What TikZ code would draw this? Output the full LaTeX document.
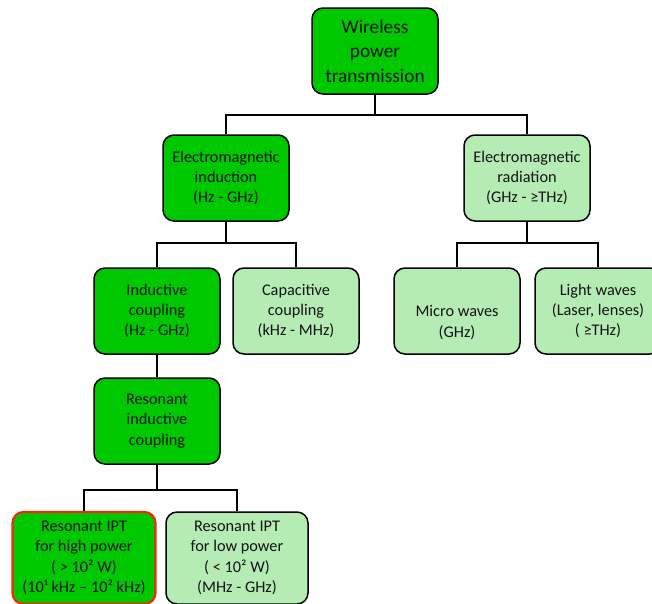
\documentclass[tikz,border=0pt]{standalone}
\usepackage{fontspec}
\setmainfont{Carlito}
\usetikzlibrary{positioning}

\definecolor{wptdark}{RGB}{0,200,0}
\definecolor{wptlight}{RGB}{180,236,180}
\definecolor{wptred}{RGB}{250,40,10}
\definecolor{wpttext}{RGB}{20,20,20}

\tikzset{
  box/.style={draw, line width=1.5pt, rounded corners=11pt, align=center,
    text=wpttext, inner sep=0pt, minimum width=126pt, minimum height=86pt,
    font=\fontsize{16.3}{20.3}\selectfont},
  darkbox/.style={box, fill=wptdark},
  lightbox/.style={box, fill=wptlight},
  link/.style={line width=1.5pt}
}

\begin{document}
\begin{tikzpicture}[x=1pt,y=-1pt]
        \useasboundingbox (0,0) rectangle (652,603);
        % top level
        \node[darkbox,font=\fontsize{19.3}{24.5}\selectfont] (wpt) at (375,51) {Wireless\\power\\transmission};
        \node[darkbox] (emi) at (226,178) {Electromagnetic\\induction\\(Hz - GHz)};
        \node[lightbox] (emr) at (527,178) {Electromagnetic\\radiation\\(GHz - ≥THz)};
        % second level
        \node[darkbox] (ind) at (157,311) {Inductive\\coupling\\(Hz - GHz)};
        \node[lightbox] (cap) at (296,311) {Capacitive\\coupling\\(kHz - MHz)};
        \node[lightbox] (mic) at (457,311) {\strut\\Micro waves\\(GHz)};
        \node[lightbox] (lig) at (598,311) {Light waves\\(Laser, lenses)\\( ≥THz)};
        \node[darkbox] (res) at (157,421) {Resonant\\inductive\\coupling};
        % bottom level
        \node[darkbox,draw=wptred,line width=2.2pt,minimum width=143pt,minimum height=92pt] (hip) at (84,558)
          {Resonant IPT\\for high power\\( > 10² W)\\(10¹ kHz – 10² kHz)};
        \node[lightbox,minimum width=142pt,minimum height=92pt] (lop) at (237,558)
          {Resonant IPT\\for low power\\( < 10² W)\\(MHz - GHz)};
        % connectors
        \coordinate (j0) at (375,115);
        \coordinate (j1) at (226,243);
        \coordinate (j2) at (527,243);
        \coordinate (j3) at (157,490);
        \draw[link] (wpt) -- (j0) -| (emi);
        \draw[link] (j0) -| (emr);
        \draw[link] (emi) -- (j1) -| (ind);
        \draw[link] (j1) -| (cap);
        \draw[link] (emr) -- (j2) -| (mic);
        \draw[link] (j2) -| (lig);
        \draw[link] (ind) -- (res);
        \draw[link] (res) -- (j3) -| (hip);
        \draw[link] (j3) -| (lop);
      \end{tikzpicture}
\end{document}
